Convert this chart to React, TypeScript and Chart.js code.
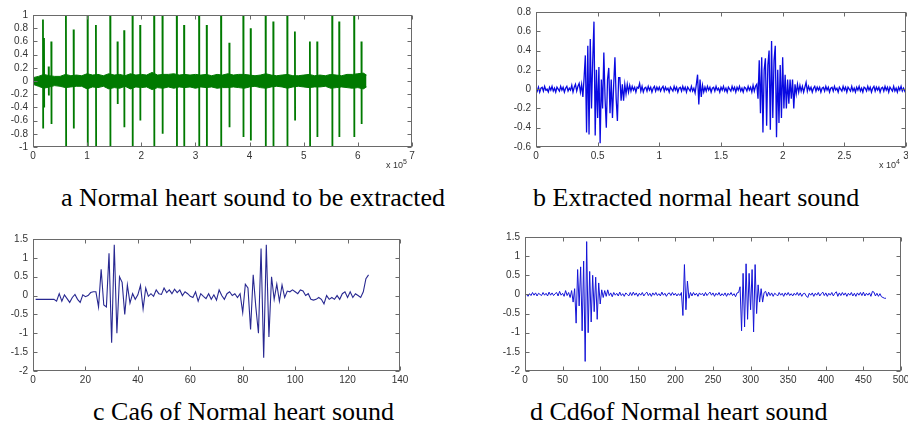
import React, { useEffect, useRef } from 'react';
import { Chart, registerables } from 'chart.js';
Chart.register(...registerables);

// ---------- Panel a: normal heart sound to be extracted (x in units of 1e5) ----------
const spikePosA = [0.184, 0.203, 0.289, 0.338, 0.608, 0.75, 1.008, 1.162, 1.426, 1.561, 1.684, 1.838, 1.979, 2.237, 2.391, 2.655, 2.79, 3.067, 3.208, 3.473, 3.626, 3.884, 4.02, 4.296, 4.438, 4.696, 4.837, 5.114, 5.249, 5.526, 5.655, 5.931, 6.066];
const spikeTopA = [0.93, 0.65, 0.22, 0.6, 1, 0.78, 1, 0.85, 1, 0.6, 0.77, 1, 0.85, 1, 1, 1, 0.85, 1, 0.85, 1, 0.58, 1, 0.8, 1, 0.9, 1, 0.75, 0.6, 0.6, 1, 0.9, 1, 0.6];
const spikeBotA = [-0.72, -0.4, -0.22, -0.65, -1, -0.72, -1, -1, -1, -0.35, -0.7, -1, -0.6, -1, -0.8, -1, -1, -1, -1, -1, -0.7, -0.85, -0.9, -1, -1, -1, -0.6, -1, -0.85, -1, -0.85, -0.85, -0.65];
const bandStepA = 0.1;
const bandEndA = 6.16;
const bandUpperA = [0.05, 0.07, 0.1, 0.08, 0.07, 0.07, 0.1, 0.08, 0.09, 0.08, 0.11, 0.09, 0.1, 0.08, 0.11, 0.09, 0.1, 0.08, 0.11, 0.09, 0.1, 0.09, 0.13, 0.09, 0.1, 0.1, 0.11, 0.09, 0.1, 0.09, 0.1, 0.09, 0.1, 0.08, 0.1, 0.09, 0.11, 0.09, 0.1, 0.1, 0.09, 0.08, 0.09, 0.11, 0.09, 0.08, 0.09, 0.1, 0.08, 0.08, 0.09, 0.1, 0.08, 0.09, 0.08, 0.1, 0.09, 0.08, 0.1, 0.1, 0.11, 0.12, 0.09];
const bandLowerA = [-0.05, -0.08, -0.11, -0.09, -0.07, -0.08, -0.1, -0.09, -0.08, -0.08, -0.12, -0.09, -0.1, -0.08, -0.12, -0.1, -0.11, -0.08, -0.12, -0.09, -0.1, -0.09, -0.13, -0.1, -0.11, -0.09, -0.11, -0.09, -0.1, -0.09, -0.11, -0.09, -0.1, -0.09, -0.11, -0.1, -0.1, -0.09, -0.1, -0.11, -0.09, -0.08, -0.1, -0.11, -0.09, -0.08, -0.09, -0.11, -0.09, -0.08, -0.09, -0.1, -0.09, -0.09, -0.08, -0.11, -0.1, -0.09, -0.1, -0.11, -0.1, -0.12, -0.09];

// ---------- Panel b: extracted normal heart sound (x in units of 1e4, step 0.01) ----------
const stepB = 0.01;
const extractedB = [
  0.01, -0.02, 0.02, -0.03, 0.01, 0.02, -0.02, 0.03, -0.01, 0.0, -0.03, 0.02, -0.01, 0.03, -0.02, 0.01, -0.03, 0.02, 0.0, -0.02,
  0.03, -0.01, 0.02, -0.03, 0.01, 0.03, -0.02, 0.01, -0.01, 0.04, -0.03, 0.02, 0.05, -0.02, 0.03, 0.06, -0.03, 0.05, -0.08, 0.12,
  0.35, -0.45, 0.45, -0.47, 0.52, -0.2, 0.3, 0.7, -0.48, 0.2, -0.3, 0.23, -0.56, 0.1, -0.2, 0.38, -0.1, -0.4, 0.1, 0.22,
  -0.25, 0.1, -0.3, 0.05, 0.33, -0.1, -0.33, 0.12, 0.12, -0.12, 0.05, -0.12, 0.05, -0.05, 0.05, -0.03, 0.04, -0.02, 0.03, -0.01,
  0.02, -0.03, 0.02, 0.01, 0.06, -0.02, 0.03, -0.03, 0.01, 0.02, -0.02, 0.03, -0.01, 0.02, -0.03, 0.01, 0.03, -0.02, 0.02, -0.01,
  0.02, -0.02, 0.01, 0.03, -0.02, 0.02, -0.01, 0.01, -0.03, 0.02, 0.0, -0.02, 0.03, -0.01, 0.02, -0.03, 0.01, 0.02, -0.02, 0.03,
  -0.01, 0.02, -0.03, 0.02, 0.0, -0.02, 0.03, -0.02, 0.01, -0.04, 0.05, 0.15, -0.16, 0.1, -0.08, 0.04, -0.03, 0.02, -0.02, 0.03,
  -0.01, 0.02, -0.03, 0.01, 0.02, -0.02, 0.03, -0.01, 0.01, -0.03, 0.02, -0.01, 0.03, -0.02, 0.01, -0.03, 0.02, 0.0, -0.02, 0.03,
  -0.01, 0.02, -0.03, 0.02, -0.01, 0.03, -0.02, 0.01, -0.03, 0.02, 0.01, -0.02, 0.03, -0.01, 0.02, -0.03, 0.04, -0.02, 0.03, 0.05,
  -0.1, 0.3, -0.25, 0.33, -0.45, 0.2, 0.32, -0.38, 0.25, 0.4, -0.42, 0.5, -0.3, 0.3, 0.45, -0.5, 0.2, -0.35, 0.25, -0.3,
  0.33, -0.2, 0.15, -0.2, 0.1, -0.15, 0.1, -0.1, 0.1, -0.2, 0.05, -0.05, 0.05, -0.03, 0.04, -0.02, 0.03, -0.03, 0.02, 0.07,
  -0.02, 0.03, -0.01, 0.02, -0.03, 0.01, 0.03, -0.02, 0.02, -0.01, 0.02, -0.03, 0.01, 0.02, -0.02, 0.03, -0.01, 0.02, -0.03, 0.01,
  0.02, -0.02, 0.03, -0.01, 0.01, -0.03, 0.02, 0.0, -0.02, 0.03, -0.01, 0.02, -0.03, 0.02, 0.0, -0.02, 0.03, -0.02, 0.01, -0.03,
  0.02, -0.01, 0.03, -0.02, 0.01, -0.03, 0.02, 0.01, -0.02, 0.03, -0.01, 0.02, -0.03, 0.01, 0.03, -0.02, 0.02, -0.01, 0.02, -0.03,
  0.01, 0.02, -0.02, 0.03, -0.01, 0.02, -0.03, 0.02, 0.0, -0.02, 0.03, -0.02, 0.01, -0.03, 0.02, -0.01, 0.03, -0.02, 0.01, -0.02, 0.01,
];

// ---------- Panel c: Ca6 (samples 1..128) ----------
const ca6 = [
  -0.1, -0.1, -0.1, -0.1, -0.1, -0.1, -0.1, -0.1, -0.15, 0.05,
  -0.15, 0.02, -0.08, -0.18, -0.05, 0.03, -0.1, -0.18, 0.02, -0.03,
  0.0, 0.08, 0.1, 0.1, -0.3, 0.7, -0.25, -0.3, 1.12, -1.25,
  1.35, -1.0, 0.5, 0.35, -0.5, 0.28, -0.2, 0.05, -0.1, 0.02,
  0.27, -0.35, 0.2, -0.02, 0.05, -0.02, 0.15, 0.05, 0.03, 0.2,
  0.08, 0.15, 0.05, 0.17, 0.08, 0.15, 0.0, 0.1, 0.05, -0.02,
  -0.05, 0.1, -0.15, 0.05, -0.02, -0.08, 0.05, -0.1, 0.02, -0.12,
  0.15, 0.0, -0.1, 0.05, 0.1, 0.0, 0.05, -0.05, 0.05, -0.45,
  0.3, 0.2, -0.9, 0.55, -0.3, -1.0, 1.25, -1.65, 1.35, -1.1,
  0.5, -0.1, 0.3, -0.15, 0.28, -0.05, 0.12, 0.1, 0.15, 0.1,
  0.05, 0.15, 0.12, 0.0, 0.05, -0.1, -0.12, -0.1, -0.05, -0.1,
  -0.22, 0.0, -0.1, -0.05, -0.1, 0.0, -0.1, 0.05, 0.1, -0.05,
  0.1, -0.05, 0.05, 0.0, -0.05, 0.1, 0.45, 0.55,
];

// ---------- Panel d: Cd6 (segments, sample step 2) ----------
const stepD = 2;
const cd6Quiet1 = [0.0, -0.05, 0.02, -0.03, 0.05, -0.02, 0.04, -0.04, 0.03, 0.0, -0.03, 0.05, -0.02, 0.03, -0.04, 0.06, -0.02, 0.04, -0.03, 0.02, 0.05, -0.04, 0.08, -0.02, 0.03, -0.05, 0.1, -0.03, 0.05, -0.08];
const cd6Burst1 = [0.1, -0.2, 0.15, -0.75, 0.65, -0.3, 0.72, -0.95, 0.87, -1.75, 1.38, -1.0, 0.6, -0.72, 0.5, -0.45, 0.45, -0.65, 0.3, -0.25, 0.12, -0.08];
const cd6Quiet2 = [0.1, -0.05, 0.12, -0.03, 0.04, -0.06, 0.05, -0.02, 0.03, -0.04, 0.06, -0.03, 0.02, -0.05, 0.04, 0.0, -0.04, 0.05, -0.03, 0.06, -0.02, 0.04, -0.05, 0.03, -0.02, 0.05, -0.04, 0.02, 0.06, -0.03, 0.03, -0.05, 0.04, -0.02, 0.05, -0.03, 0.02, -0.04, 0.06, -0.02, 0.03, -0.05, 0.02, 0.04, -0.03, 0.05, -0.02, 0.03, -0.04, 0.02, -0.03];
const cd6Burst2 = [0.05, -0.55, 0.78, -0.4, 0.35, -0.1, 0.05];
const cd6Quiet3 = [-0.04, 0.05, -0.02, 0.03, -0.05, 0.04, -0.01, 0.03, -0.04, 0.05, -0.03, 0.02, 0.06, -0.02, 0.04, -0.05, 0.03, -0.02, 0.05, -0.04, 0.02, -0.03, 0.04, -0.05, 0.03, -0.02, 0.05, -0.03, 0.02, -0.06, 0.04];
const cd6Burst3 = [0.05, 0.2, -0.95, 0.55, -0.85, 0.8, -0.65, 0.55, -0.4, 0.65, -0.98, 0.78, -0.5, 0.25, -0.2, 0.15, -0.2, 0.05];
const cd6Quiet4 = [0.08, -0.05, 0.06, -0.03, 0.04, -0.05, 0.03, 0.0, -0.04, 0.05, -0.02, 0.03, -0.05, 0.04, -0.02, 0.05, -0.03, 0.02, -0.04, 0.03, -0.02, 0.05, -0.03, 0.04, -0.05, 0.02, 0.03, -0.04, -0.08, 0.03, -0.02, 0.04, -0.05, 0.03, -0.02, 0.05, -0.04, 0.02, 0.06, -0.03, 0.04, -0.05, 0.03, -0.02, 0.05, -0.04, 0.03, 0.07, -0.05, 0.04, -0.03, 0.05, -0.02, 0.04, -0.05, 0.03, -0.02, 0.05, -0.04, 0.03, -0.05, 0.04, -0.02, 0.05, -0.03, 0.06, -0.04, 0.03, -0.02, 0.04, -0.05, 0.08, 0.06, -0.04, 0.03, -0.05, 0.02, -0.06, -0.08, -0.1, -0.1];
const cd6Segments: [number, number[]][] = [[2, cd6Quiet1], [62, cd6Burst1], [106, cd6Quiet2], [208, cd6Burst2], [222, cd6Quiet3], [284, cd6Burst3], [320, cd6Quiet4]];

// ---------- captions ----------
const captions = [
  { text: 'a Normal heart sound to be extracted', left: 61, top: 185 },
  { text: 'b Extracted normal heart sound', left: 533, top: 185 },
  { text: 'c Ca6 of Normal heart sound', left: 93, top: 399 },
  { text: 'd Cd6of Normal heart sound', left: 530, top: 399 },
];

// ---------- layout helpers ----------
const PAD_LEFT = 40;
const PAD_TOP = 8;
const PAD_RIGHT = 14;
const PAD_BOTTOM = 18;

type Pt = { x: number; y: number | null };

const boxPlugin = {
  id: 'matlabBox',
  afterDatasetsDraw(chart: any) {
    const { ctx, chartArea } = chart;
    const { left, top, right, bottom } = chartArea;
    const xs = chart.scales.x;
    const ys = chart.scales.y;
    ctx.save();
    ctx.strokeStyle = '#6a6a6a';
    ctx.lineWidth = 1;
    const l = Math.round(left) + 0.5;
    const r = Math.round(right) - 0.5;
    const t = Math.round(top) + 0.5;
    const b = Math.round(bottom) - 0.5;
    ctx.strokeRect(l, t, r - l, b - t);
    const tl = 4;
    ctx.beginPath();
    xs.ticks.forEach((tk: any) => {
      const px = Math.round(xs.getPixelForValue(tk.value)) + 0.5;
      ctx.moveTo(px, b); ctx.lineTo(px, b - tl);
      ctx.moveTo(px, t); ctx.lineTo(px, t + tl);
    });
    ys.ticks.forEach((tk: any) => {
      const py = Math.round(ys.getPixelForValue(tk.value)) + 0.5;
      ctx.moveTo(l, py); ctx.lineTo(l + tl, py);
      ctx.moveTo(r, py); ctx.lineTo(r - tl, py);
    });
    ctx.stroke();
    ctx.restore();
  },
};

const tickFont = { family: "'Liberation Sans', Arial, sans-serif", size: 10 };
const fmtTick = (v: any) => String(Number(Number(v).toFixed(3)));

function makeConfig(p: any) {
  return {
    type: 'line',
    data: { datasets: p.datasets },
    options: {
      animation: false,
      responsive: false,
      maintainAspectRatio: false,
      devicePixelRatio: 1,
      events: [],
      layout: { padding: { left: 0, top: PAD_TOP, right: PAD_RIGHT, bottom: 0 } },
      plugins: { legend: { display: false }, tooltip: { enabled: false } },
      elements: { point: { radius: 0 }, line: { tension: 0 } },
      scales: {
        x: {
          type: 'linear', min: p.xMin, max: p.xMax,
          afterFit: (s: any) => { s.height = PAD_BOTTOM; },
          grid: { display: false, drawTicks: false }, border: { display: false },
          ticks: { stepSize: p.xStep, padding: 3, font: tickFont, color: '#333', maxRotation: 0, autoSkip: false, callback: fmtTick },
        },
        y: {
          type: 'linear', min: p.yMin, max: p.yMax,
          afterFit: (s: any) => { s.width = PAD_LEFT; },
          grid: { display: false, drawTicks: false }, border: { display: false },
          ticks: { stepSize: p.yStep, padding: 5, font: tickFont, color: '#333', autoSkip: false, callback: fmtTick },
        },
      },
    },
    plugins: [boxPlugin],
  };
}

function buildPanels() {
  // panel a
  const upper: Pt[] = bandUpperA.map((v, i) => ({ x: Math.min(i * bandStepA, bandEndA), y: v }));
  const lower: Pt[] = bandLowerA.map((v, i) => ({ x: Math.min(i * bandStepA, bandEndA), y: v }));
  const spikes: Pt[] = [];
  spikePosA.forEach((p, i) => {
    spikes.push({ x: p, y: spikeTopA[i] });
    spikes.push({ x: p + 0.004, y: spikeBotA[i] });
    spikes.push({ x: p + 0.006, y: null });
  });
  const green = 'rgb(0,122,0)';
  const a = {
    L: 33, T: 12, R: 412, B: 147, xMin: 0, xMax: 7, xStep: 1, yMin: -1, yMax: 1, yStep: 0.2,
    datasets: [
      { data: upper, borderColor: green, borderWidth: 1, fill: false },
      { data: lower, borderColor: green, borderWidth: 1, fill: '-1', backgroundColor: green },
      { data: spikes, borderColor: green, borderWidth: 1.8, fill: false, spanGaps: false },
    ],
  };
  // panel b
  const b = {
    L: 536, T: 9, R: 906, B: 147, xMin: 0, xMax: 3, xStep: 0.5, yMin: -0.6, yMax: 0.8, yStep: 0.2,
    datasets: [
      { data: extractedB.map((v, i) => ({ x: i * stepB, y: v })), borderColor: 'rgb(10,10,225)', borderWidth: 1.3, fill: false },
    ],
  };
  // panel c
  const c = {
    L: 33, T: 236, R: 400, B: 371, xMin: 0, xMax: 140, xStep: 20, yMin: -2, yMax: 1.5, yStep: 0.5,
    datasets: [
      { data: ca6.map((v, i) => ({ x: i + 1, y: v })), borderColor: 'rgb(40,40,145)', borderWidth: 1.1, fill: false },
    ],
  };
  // panel d
  const dPts: Pt[] = [];
  cd6Segments.forEach(([start, vals]) => {
    vals.forEach((v, i) => dPts.push({ x: start + i * stepD, y: v }));
  });
  const d = {
    L: 525, T: 234, R: 901, B: 371, xMin: 0, xMax: 500, xStep: 50, yMin: -2, yMax: 1.5, yStep: 0.5,
    datasets: [
      { data: dPts, borderColor: 'rgb(20,20,215)', borderWidth: 1, fill: false },
    ],
  };
  return [a, b, c, d];
}

function Panel({ p }: { p: any }) {
  const ref = useRef<HTMLCanvasElement>(null);
  const width = p.R - p.L + PAD_LEFT + PAD_RIGHT;
  const height = p.B - p.T + PAD_TOP + PAD_BOTTOM;
  useEffect(() => {
    if (!ref.current) return;
    const chart = new Chart(ref.current, makeConfig(p) as any);
    return () => chart.destroy();
  }, []);
  return (
    <canvas
      ref={ref}
      width={width}
      height={height}
      style={{ position: 'absolute', left: p.L - PAD_LEFT, top: p.T - PAD_TOP, width, height }}
    />
  );
}

const expStyle: React.CSSProperties = {
  position: 'absolute', fontFamily: "'Liberation Sans', Arial, sans-serif", fontSize: 9, color: '#333', whiteSpace: 'nowrap', lineHeight: '10px',
};

export default function App() {
  const panels = buildPanels();
  return (
    <div style={{ position: 'fixed', left: 0, top: 0, width: 908, height: 431, overflow: 'hidden', background: '#fff' }}>
      {panels.map((p, i) => <Panel key={i} p={p} />)}
      <div style={{ ...expStyle, left: 386, top: 157 }}>x 10<sup style={{ fontSize: 7, verticalAlign: 4 }}>5</sup></div>
      <div style={{ ...expStyle, left: 879, top: 157 }}>x 10<sup style={{ fontSize: 7, verticalAlign: 4 }}>4</sup></div>
      {captions.map((c, i) => (
        <div
          key={i}
          style={{
            position: 'absolute', left: c.left, top: c.top, fontFamily: "'Liberation Serif', 'Times New Roman', Tinos, 'DejaVu Serif', serif",
            fontSize: 26, lineHeight: '26px', color: '#000', whiteSpace: 'nowrap',
          }}
        >
          {c.text}
        </div>
      ))}
    </div>
  );
}
